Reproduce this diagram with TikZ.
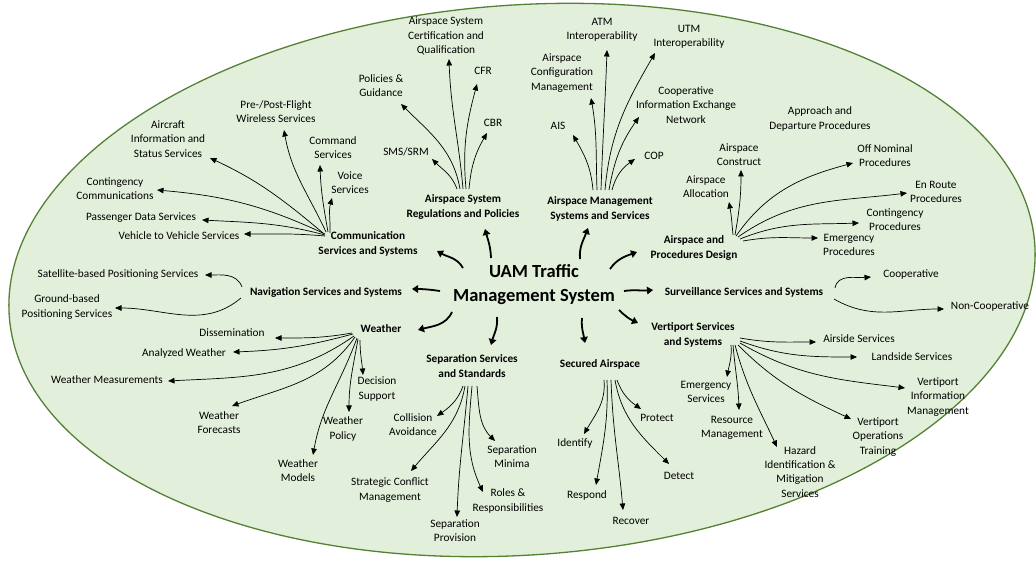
\documentclass[tikz,border=0pt]{standalone}
\usepackage{fontspec}
\setmainfont{Carlito}
\usetikzlibrary{arrows.meta,calc}
\definecolor{ellfill}{RGB}{226,239,218}
\definecolor{elldraw}{RGB}{84,130,53}
\begin{document}
\begin{tikzpicture}[x=1pt,y=1pt,
  lbl/.style={font=\fontsize{11.3}{14.2}\selectfont, align=center, inner sep=0pt},
  mainlbl/.style={font=\fontsize{11.3}{14.2}\selectfont\bfseries, align=center, inner sep=0pt},
  ttl/.style={font=\fontsize{18.5}{24}\selectfont\bfseries, align=center, inner sep=0pt},
  sub/.style={line width=0.7pt, -{Triangle[length=6.5pt,width=5.5pt]}},
  big/.style={line width=1.8pt, -{Triangle[length=6pt,width=7.5pt]}},
]
\useasboundingbox (0,0) rectangle (1036,560);
\begin{scope}
\clip (0,0) rectangle (1036,560);
\draw[elldraw, fill=ellfill, line width=1.3pt, rotate around={4:(522,280)}] (522,280) ellipse [x radius=514, y radius=275];
\end{scope}

% title
\node[ttl] (title) at (534,275) {UAM Traffic\\Management System};

% main labels
\node[mainlbl] (comm) at (368,316) {Communication\\Services and Systems};
\node[mainlbl] (nav) at (326,268) {Navigation Services and Systems};
\node[mainlbl] (wx) at (381,231) {Weather};
\node[mainlbl] (sep) at (472,194) {Separation Services\\and Standards};
\node[mainlbl] (sec) at (600,196) {Secured Airspace};
\node[mainlbl] (vert) at (693,225) {Vertiport Services\\and Systems};
\node[mainlbl] (surv) at (744,268) {Surveillance Services and Systems};
\node[mainlbl] (apd) at (694,312) {Airspace and\\Procedures Design};
\node[mainlbl] (asm) at (600,351) {Airspace Management\\Systems and Services};
\node[mainlbl] (asr) at (463,353) {Airspace System\\Regulations and Policies};

% communication leaves
\node[lbl] (acft) at (168,421) {Aircraft\\Information and\\Status Services};
\node[lbl] (pre) at (276,448) {Pre-/Post-Flight\\Wireless Services};
\node[lbl] (cmd) at (333,412) {Command\\Services};
\node[lbl] (voice) at (350,377) {Voice\\Services};
\node[lbl] (cont) at (115,371) {Contingency\\Communications};
\node[lbl] (pass) at (141,342) {Passenger Data Services};
\node[lbl] (v2v) at (179,324) {Vehicle to Vehicle Services};
% navigation leaves
\node[lbl] (sat) at (118,285) {Satellite-based Positioning Services};
\node[lbl] (ground) at (67,253) {Ground-based\\Positioning Services};
% weather leaves
\node[lbl] (diss) at (232,227) {Dissemination};
\node[lbl] (anal) at (184,207) {Analyzed Weather};
\node[lbl] (meas) at (107,180) {Weather Measurements};
\node[lbl] (fore) at (219,137) {Weather\\Forecasts};
\node[lbl] (models) at (298,89) {Weather\\Models};
\node[lbl] (policy) at (343,131) {Weather\\Policy};
\node[lbl] (dec) at (377,171) {Decision\\Support};
% separation leaves
\node[lbl] (coll) at (413,135) {Collision\\Avoidance};
\node[lbl] (strat) at (390,70) {Strategic Conflict\\Management};
\node[lbl] (prov) at (455,29) {Separation\\Provision};
\node[lbl] (roles) at (508,59) {Roles \&\\Responsibilities};
\node[lbl] (minima) at (512,103) {Separation\\Minima};
% secured leaves
\node[lbl] (identify) at (575,117) {Identify};
\node[lbl] (respond) at (587,65) {Respond};
\node[lbl] (recover) at (631,39) {Recover};
\node[lbl] (detect) at (679,84) {Detect};
\node[lbl] (protect) at (657,142) {Protect};
% vertiport leaves
\node[lbl] (airside) at (859,221) {Airside Services};
\node[lbl] (landside) at (912,203) {Landside Services};
\node[lbl] (vinfo) at (938,163) {Vertiport\\Information\\Management};
\node[lbl] (vops) at (878,123) {Vertiport\\Operations\\Training};
\node[lbl] (hazard) at (800,88) {Hazard\\Identification \&\\Mitigation\\Services};
\node[lbl] (resource) at (732,132) {Resource\\Management};
\node[lbl] (emerg) at (706,168) {Emergency\\Services};
% surveillance leaves
\node[lbl] (coop) at (911,285) {Cooperative};
\node[lbl] (noncoop) at (990,253) {Non-Cooperative};
% airspace and procedures design leaves
\node[lbl] (alloc) at (706,373) {Airspace\\Allocation};
\node[lbl] (construct) at (739,405) {Airspace\\Construct};
\node[lbl] (approach) at (820,441) {Approach and\\Departure Procedures};
\node[lbl] (offnom) at (885,404) {Off Nominal\\Procedures};
\node[lbl] (enroute) at (936,368) {En Route\\Procedures};
\node[lbl] (contproc) at (895,340) {Contingency\\Procedures};
\node[lbl] (emproc) at (849,315) {Emergency\\Procedures};
% airspace management leaves
\node[lbl] (ais) at (558,434) {AIS};
\node[lbl] (config) at (562,487) {Airspace\\Configuration\\Management};
\node[lbl] (atm) at (602,530) {ATM\\Interoperability};
\node[lbl] (utm) at (689,523) {UTM\\Interoperability};
\node[lbl] (coopinfo) at (686,455) {Cooperative\\Information Exchange\\Network};
\node[lbl] (cop) at (654,404) {COP};
% airspace system regulation leaves
\node[lbl] (sms) at (406,408) {SMS/SRM};
\node[lbl] (policies) at (381,474) {Policies \&\\Guidance};
\node[lbl] (cert) at (446,524) {Airspace System\\Certification and\\Qualification};
\node[lbl] (cfr) at (483,489) {CFR};
\node[lbl] (cbr) at (493,437) {CBR};

% main arrows
\draw[big] ($(title)+(-71,17)$) to[out=120,in=-30] ($(comm)+(69,-7)$);
\draw[big] ($(title)+(-94,-6)$) to[out=172,in=0] ($(nav)+(86,3)$);
\draw[big] ($(title)+(-82,-27)$) to[out=-115,in=15] ($(wx)+(37,-1)$);
\draw[big] ($(title)+(-37,-32)$) to[out=-85,in=75] ($(sep)+(19,21)$);
\draw[big] ($(title)+(48,-33)$) to[out=-95,in=100] ($(sec)+(-15,21)$);
\draw[big] ($(title)+(85,-25)$) to[out=-45,in=155] ($(vert)+(-55,12)$);
\draw[big] ($(title)+(90,-6)$) to[out=8,in=185] ($(surv)+(-91,2)$);
\draw[big] ($(title)+(76,16)$) to[out=55,in=200] ($(apd)+(-57,-4)$);
\draw[big] ($(title)+(46,26)$) to[out=95,in=-110] ($(asm)+(-12,-19)$);
\draw[big] ($(title)+(-43,27)$) to[out=92,in=-75] ($(asr)+(22,-22)$);

% communication
\draw[sub] ($(comm)+(-45,11)$) to[out=140,in=-25] ($(acft)+(42,-19)$);
\draw[sub] ($(comm)+(-42,12)$) to[out=115,in=-80] ($(pre)+(8,-18)$);
\draw[sub] ($(comm)+(-40,12)$) to[out=100,in=-88] ($(cmd)+(-13,-17)$);
\draw[sub] ($(comm)+(-38,11)$) to[out=88,in=-105] ($(voice)+(-18,-15)$);
\draw[sub] ($(comm)+(-43,10)$) to[out=155,in=-5] ($(cont)+(42,-1)$);
\draw[sub] ($(comm)+(-43,9)$) to[out=165,in=-3] ($(pass)+(61,-2)$);
\draw[sub] ($(comm)+(-43,8)$) to[out=175,in=0] ($(v2v)+(65,2)$);
% navigation
\draw[sub] ($(nav)+(-84,5)$) to[out=110,in=0] ($(sat)+(87,0)$);
\draw[sub] ($(nav)+(-85,-6)$) to[out=-140,in=0] ($(ground)+(48,-1)$);
% weather
\draw[sub] ($(wx)+(-29,-4)$) to[out=190,in=0] ($(diss)+(43,-5)$);
\draw[sub] ($(wx)+(-28,-5)$) to[out=195,in=2] ($(anal)+(49,1)$);
\draw[sub] ($(wx)+(-27,-7)$) to[out=-145,in=3] ($(meas)+(61,-1)$);
\draw[sub] ($(wx)+(-26,-8)$) to[out=-125,in=20] ($(fore)+(13,17)$);
\draw[sub] ($(wx)+(-24,-9)$) to[out=-110,in=80] ($(models)+(15,16)$);
\draw[sub] ($(wx)+(-23,-10)$) to[out=-100,in=90] ($(policy)+(6,17)$);
\draw[sub] ($(wx)+(-21,-11)$) to[out=-90,in=95] ($(dec)+(-14,14)$);
% separation
\draw[sub] ($(sep)+(-9,-20)$) to[out=-110,in=35] ($(coll)+(24,9)$);
\draw[sub] ($(sep)+(-7,-20)$) to[out=-100,in=50] ($(strat)+(21,19)$);
\draw[sub] ($(sep)+(-4,-20)$) to[out=-95,in=88] ($(prov)+(2,14)$);
\draw[sub] ($(sep)+(0,-20)$) to[out=-95,in=115] ($(roles)+(-25,9)$);
\draw[sub] ($(sep)+(5,-20)$) to[out=-85,in=135] ($(minima)+(-17,16)$);
% secured
\draw[sub] ($(sec)+(4,-16)$) to[out=-85,in=60] ($(identify)+(9,9)$);
\draw[sub] ($(sec)+(7,-16)$) to[out=-88,in=80] ($(respond)+(9,10)$);
\draw[sub] ($(sec)+(11,-16)$) to[out=-88,in=95] ($(recover)+(-8,11)$);
\draw[sub] ($(sec)+(15,-16)$) to[out=-80,in=135] ($(detect)+(-10,12)$);
\draw[sub] ($(sec)+(17,-16)$) to[out=-70,in=145] ($(protect)+(-16,9)$);
% vertiport
\draw[sub] ($(vert)+(47,-3)$) to[out=-10,in=180] ($(airside)+(-43,-3)$);
\draw[sub] ($(vert)+(47,-6)$) to[out=-20,in=180] ($(landside)+(-55,0)$);
\draw[sub] ($(vert)+(47,-8)$) to[out=-30,in=173] ($(vinfo)+(-33,9)$);
\draw[sub] ($(vert)+(45,-10)$) to[out=-45,in=155] ($(vops)+(-27,18)$);
\draw[sub] ($(vert)+(42,-10)$) to[out=-75,in=115] ($(hazard)+(-23,25)$);
\draw[sub] ($(vert)+(40,-10)$) to[out=-85,in=92] ($(resource)+(7,18)$);
\draw[sub] ($(vert)+(38,-10)$) to[out=-85,in=80] ($(emerg)+(21,15)$);
% surveillance
\draw[sub] ($(surv)+(91,4)$) to[out=80,in=185] ($(coop)+(-40,-2)$);
\draw[sub] ($(surv)+(90,-7)$) to[out=-30,in=180] ($(noncoop)+(-46,-2)$);
% airspace and procedures design
\draw[sub] ($(apd)+(39,13)$) to[out=95,in=-80] ($(alloc)+(23,-15)$);
\draw[sub] ($(apd)+(41,13)$) to[out=80,in=-90] ($(construct)+(2,-15)$);
\draw[sub] ($(apd)+(42,12)$) to[out=55,in=195] ($(offnom)+(-32,-7)$);
\draw[sub] ($(apd)+(44,11)$) to[out=35,in=187] ($(enroute)+(-29,-1)$);
\draw[sub] ($(apd)+(46,9)$) to[out=22,in=182] ($(contproc)+(-36,-3)$);
\draw[sub] ($(apd)+(49,7)$) to[out=10,in=180] ($(emproc)+(-31,7)$);
% airspace management
\draw[sub] ($(asm)+(-7,19)$) to[out=95,in=-60] ($(ais)+(15,-9)$);
\draw[sub] ($(asm)+(-3,19)$) to[out=92,in=-80] ($(config)+(29,-25)$);
\draw[sub] ($(asm)+(1,19)$) to[out=88,in=-92] ($(atm)+(5,-20)$);
\draw[sub] ($(asm)+(5,19)$) to[out=85,in=-120] ($(utm)+(-34,-16)$);
\draw[sub] ($(asm)+(9,19)$) to[out=80,in=-125] ($(coopinfo)+(-47,-12)$);
\draw[sub] ($(asm)+(12,19)$) to[out=75,in=-145] ($(cop)+(-19,-3)$);
% airspace system regulations
\draw[sub] ($(asr)+(-6,18)$) to[out=110,in=-45] ($(sms)+(26,-7)$);
\draw[sub] ($(asr)+(-3,18)$) to[out=100,in=-45] ($(policies)+(20,-18)$);
\draw[sub] ($(asr)+(0,18)$) to[out=95,in=-88] ($(cert)+(3,-23)$);
\draw[sub] ($(asr)+(3,18)$) to[out=95,in=-105] ($(cfr)+(-6,-13)$);
\draw[sub] ($(asr)+(6,18)$) to[out=85,in=-120] ($(cbr)+(-6,-10)$);
\end{tikzpicture}
\end{document}
